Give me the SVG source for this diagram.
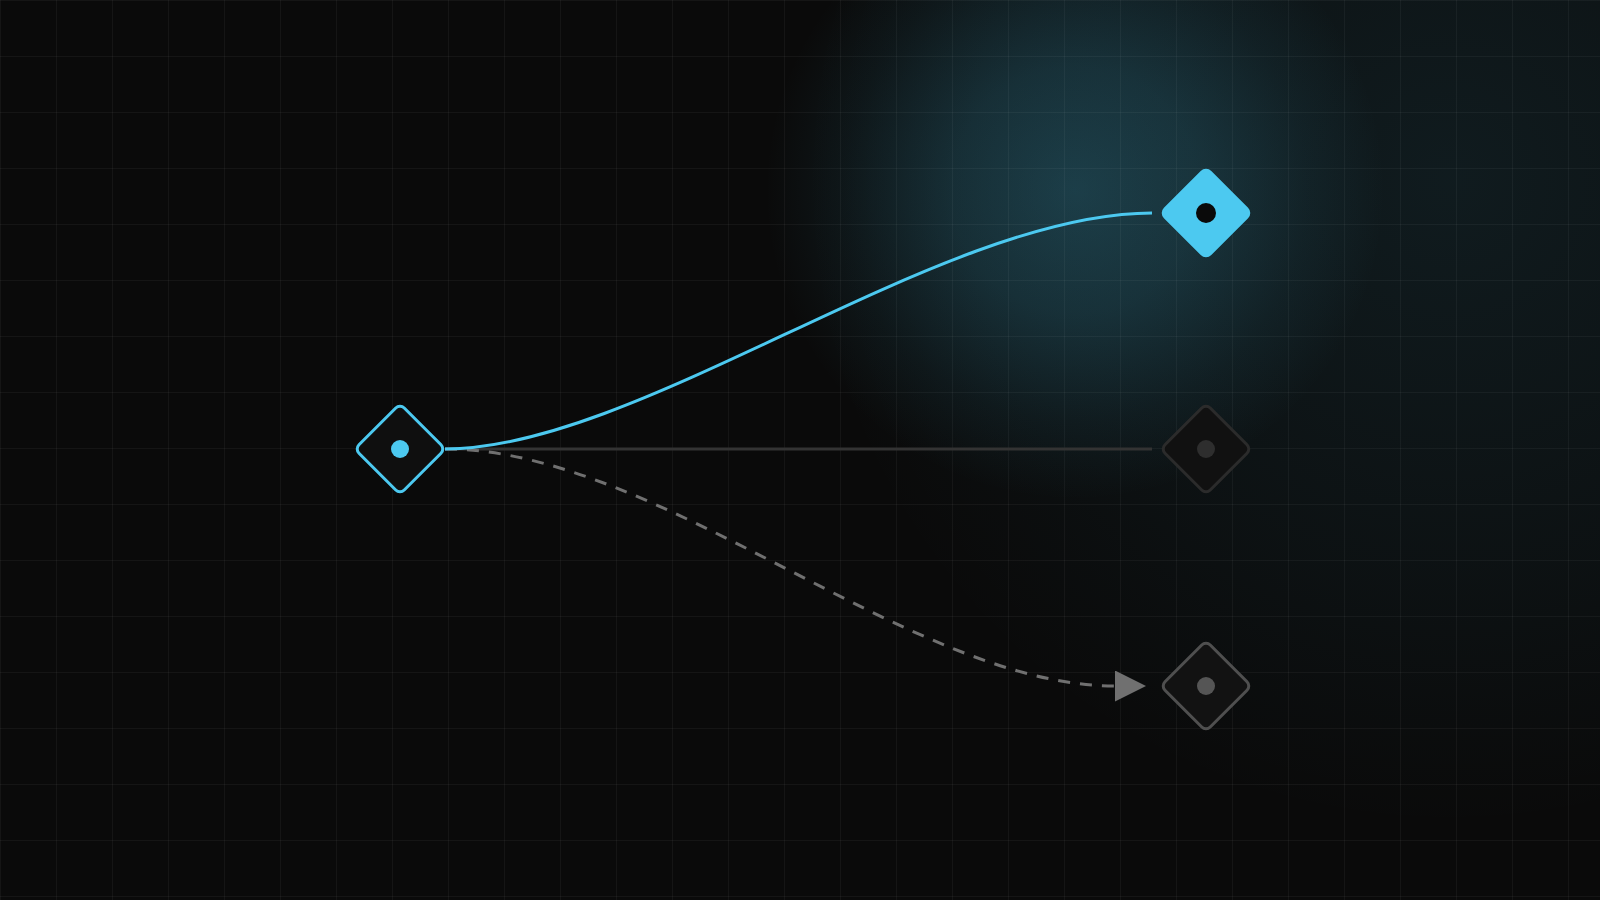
<svg xmlns="http://www.w3.org/2000/svg" width="1600" height="900" viewBox="0 0 1600 900">
  <defs>
    <pattern id="grid" x="0" y="0" width="56" height="56" patternUnits="userSpaceOnUse">
      <path d="M 0.5 0 V 56 M 0 0.5 H 56" fill="none" stroke="#ffffff" stroke-opacity="0.045" stroke-width="1"/>
    </pattern>
    <radialGradient id="glow" cx="1075" cy="190" r="310" gradientUnits="userSpaceOnUse">
      <stop offset="0" stop-color="#4cc9f0" stop-opacity="0.24"/>
      <stop offset="0.4" stop-color="#4cc9f0" stop-opacity="0.17"/>
      <stop offset="0.75" stop-color="#4cc9f0" stop-opacity="0.06"/>
      <stop offset="1" stop-color="#4cc9f0" stop-opacity="0"/>
    </radialGradient>
    <radialGradient id="glow2" cx="1450" cy="180" r="650" gradientUnits="userSpaceOnUse">
      <stop offset="0" stop-color="#4cc9f0" stop-opacity="0.09"/>
      <stop offset="0.6" stop-color="#4cc9f0" stop-opacity="0.04"/>
      <stop offset="1" stop-color="#4cc9f0" stop-opacity="0"/>
    </radialGradient>
    <marker id="arrow" markerUnits="userSpaceOnUse" markerWidth="31" markerHeight="31" refX="0" refY="15.5" orient="auto" viewBox="0 0 31 31">
      <path d="M 0 0 L 31 15.5 L 0 31 Z" fill="#707070"/>
    </marker>
  </defs>
  <style>
    .diamond { stroke-width: 3; }
    .active .diamond { fill: #0f0f0f; stroke: #4cc9f0; }
    .active .dot { fill: #4cc9f0; }
    .selected .diamond { fill: #4cc9f0; stroke: #4cc9f0; }
    .selected .dot { fill: #0a0a0a; }
    .dim .diamond { fill: #111111; stroke: #2b2b2b; }
    .dim .dot { fill: #2e2e2e; }
    .muted .diamond { fill: #121212; stroke: #4f4f4f; }
    .muted .dot { fill: #555555; }
    .edge { fill: none; stroke-width: 3; }
  </style>

  <rect width="1600" height="900" fill="#0a0a0a"/>
  <rect width="1600" height="900" fill="url(#glow2)"/>
  <rect width="1600" height="900" fill="url(#glow)"/>
  <rect width="1600" height="900" fill="url(#grid)"/>

  <g id="connectors">
    <line class="edge" x1="445" y1="449" x2="1152" y2="449" stroke="#333333"/>
    <path class="edge" stroke="#707070" stroke-dasharray="12 10" marker-end="url(#arrow)"
      d="M 445 449 C 660 449, 910 686, 1115 686"/>
    <path class="edge" stroke="#4cc9f0" d="M 445 449 C 640 449, 940 213, 1152 213"/>
  </g>

  <g id="node-source" class="active" transform="translate(400 449)">
    <rect class="diamond" x="-32" y="-32" width="64" height="64" rx="6" transform="rotate(45)"/>
    <circle class="dot" r="9"/>
  </g>
  <g id="node-target-selected" class="selected" transform="translate(1206 213)">
    <rect class="diamond" x="-32" y="-32" width="64" height="64" rx="6" transform="rotate(45)"/>
    <circle class="dot" r="10"/>
  </g>
  <g id="node-target-dim" class="dim" transform="translate(1206 449)">
    <rect class="diamond" x="-32" y="-32" width="64" height="64" rx="6" transform="rotate(45)"/>
    <circle class="dot" r="9"/>
  </g>
  <g id="node-target-pending" class="muted" transform="translate(1206 686)">
    <rect class="diamond" x="-32" y="-32" width="64" height="64" rx="6" transform="rotate(45)"/>
    <circle class="dot" r="9"/>
  </g>
</svg>
